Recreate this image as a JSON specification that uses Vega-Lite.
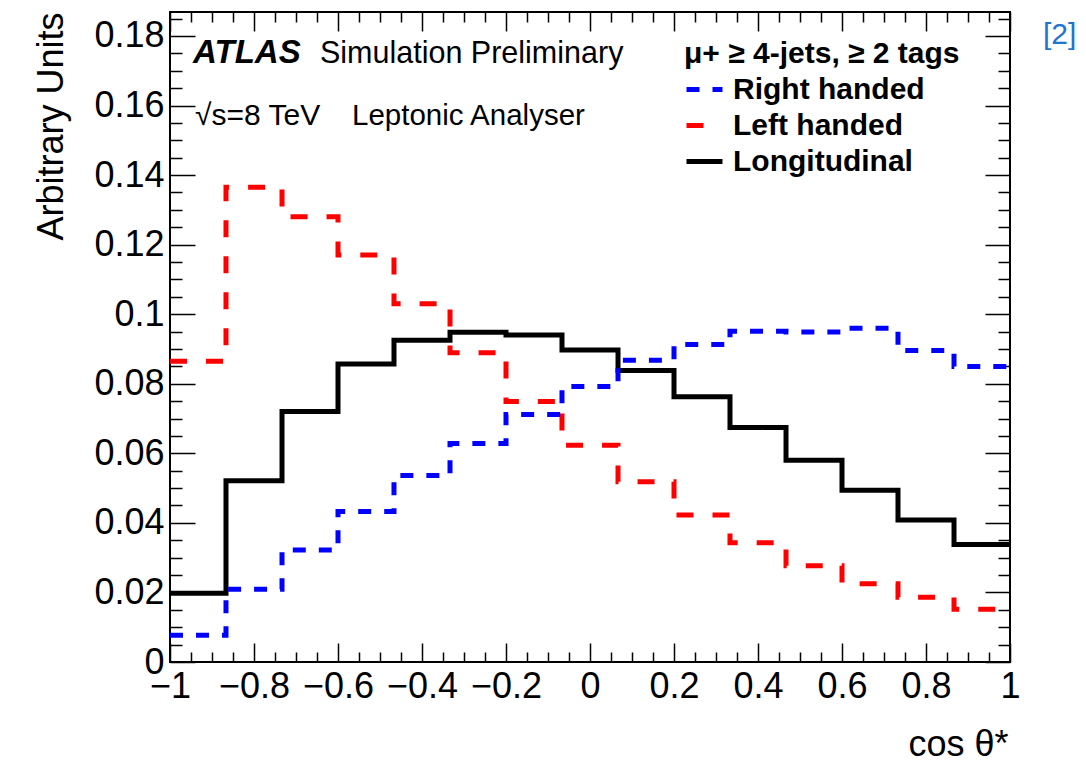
{
  "$schema": "https://vega.github.io/schema/vega-lite/v6.json",
  "width": 840,
  "height": 650,
  "autosize": {"type": "none"},
  "padding": {"left": 170, "top": 12, "right": 76, "bottom": 102},
  "background": "white",
  "config": {
    "view": {"stroke": "black", "strokeWidth": 2},
    "font": "Liberation Sans",
    "axis": {"grid": false, "domain": false, "tickColor": "black", "tickWidth": 1.5, "labelColor": "black", "titleColor": "black", "labelFont": "Liberation Sans", "titleFont": "Liberation Sans", "titleFontWeight": "normal", "labelOverlap": false, "labelFlush": false, "labelBound": false}
  },
  "resolve": {"axis": {"x": "independent", "y": "independent"}},
  "layer": [
    {
      "data": {
        "values": [
          {"series": "Longitudinal", "x0": -1, "x1": -0.8667, "v": 0.0198},
          {"series": "Longitudinal", "x0": -0.8667, "x1": -0.7333, "v": 0.0521},
          {"series": "Longitudinal", "x0": -0.7333, "x1": -0.6, "v": 0.0720},
          {"series": "Longitudinal", "x0": -0.6, "x1": -0.4667, "v": 0.0857},
          {"series": "Longitudinal", "x0": -0.4667, "x1": -0.3333, "v": 0.0925},
          {"series": "Longitudinal", "x0": -0.3333, "x1": -0.2, "v": 0.0948},
          {"series": "Longitudinal", "x0": -0.2, "x1": -0.0667, "v": 0.0940},
          {"series": "Longitudinal", "x0": -0.0667, "x1": 0.0667, "v": 0.0897},
          {"series": "Longitudinal", "x0": 0.0667, "x1": 0.2, "v": 0.0838},
          {"series": "Longitudinal", "x0": 0.2, "x1": 0.3333, "v": 0.0763},
          {"series": "Longitudinal", "x0": 0.3333, "x1": 0.4667, "v": 0.0674},
          {"series": "Longitudinal", "x0": 0.4667, "x1": 0.6, "v": 0.0580},
          {"series": "Longitudinal", "x0": 0.6, "x1": 0.7333, "v": 0.0494},
          {"series": "Longitudinal", "x0": 0.7333, "x1": 0.8667, "v": 0.0408},
          {"series": "Longitudinal", "x0": 0.8667, "x1": 1, "v": 0.0338},
          {"series": "Left handed", "x0": -1, "x1": -0.8667, "v": 0.0865},
          {"series": "Left handed", "x0": -0.8667, "x1": -0.7333, "v": 0.1365},
          {"series": "Left handed", "x0": -0.7333, "x1": -0.6, "v": 0.1280},
          {"series": "Left handed", "x0": -0.6, "x1": -0.4667, "v": 0.1170},
          {"series": "Left handed", "x0": -0.4667, "x1": -0.3333, "v": 0.1030},
          {"series": "Left handed", "x0": -0.3333, "x1": -0.2, "v": 0.0889},
          {"series": "Left handed", "x0": -0.2, "x1": -0.0667, "v": 0.0749},
          {"series": "Left handed", "x0": -0.0667, "x1": 0.0667, "v": 0.0623},
          {"series": "Left handed", "x0": 0.0667, "x1": 0.2, "v": 0.0518},
          {"series": "Left handed", "x0": 0.2, "x1": 0.3333, "v": 0.0423},
          {"series": "Left handed", "x0": 0.3333, "x1": 0.4667, "v": 0.0343},
          {"series": "Left handed", "x0": 0.4667, "x1": 0.6, "v": 0.0277},
          {"series": "Left handed", "x0": 0.6, "x1": 0.7333, "v": 0.0225},
          {"series": "Left handed", "x0": 0.7333, "x1": 0.8667, "v": 0.0186},
          {"series": "Left handed", "x0": 0.8667, "x1": 1, "v": 0.0152},
          {"series": "Right handed", "x0": -1, "x1": -0.8667, "v": 0.0077},
          {"series": "Right handed", "x0": -0.8667, "x1": -0.7333, "v": 0.0209},
          {"series": "Right handed", "x0": -0.7333, "x1": -0.6, "v": 0.0322},
          {"series": "Right handed", "x0": -0.6, "x1": -0.4667, "v": 0.0433},
          {"series": "Right handed", "x0": -0.4667, "x1": -0.3333, "v": 0.0536},
          {"series": "Right handed", "x0": -0.3333, "x1": -0.2, "v": 0.0628},
          {"series": "Right handed", "x0": -0.2, "x1": -0.0667, "v": 0.0712},
          {"series": "Right handed", "x0": -0.0667, "x1": 0.0667, "v": 0.0792},
          {"series": "Right handed", "x0": 0.0667, "x1": 0.2, "v": 0.0868},
          {"series": "Right handed", "x0": 0.2, "x1": 0.3333, "v": 0.0913},
          {"series": "Right handed", "x0": 0.3333, "x1": 0.4667, "v": 0.0951},
          {"series": "Right handed", "x0": 0.4667, "x1": 0.6, "v": 0.0949},
          {"series": "Right handed", "x0": 0.6, "x1": 0.7333, "v": 0.0960},
          {"series": "Right handed", "x0": 0.7333, "x1": 0.8667, "v": 0.0896},
          {"series": "Right handed", "x0": 0.8667, "x1": 1, "v": 0.0850}
        ]
      },
      "transform": [{"fold": ["x0", "x1"], "as": ["edge", "x"]}],
      "mark": {"type": "line", "strokeWidth": 5, "strokeCap": "butt", "strokeJoin": "miter"},
      "encoding": {
        "x": {
          "field": "x", "type": "quantitative",
          "scale": {"domain": [-1, 1], "nice": false, "zero": false},
          "axis": {
            "orient": "bottom",
            "values": [-1, -0.8, -0.6, -0.4, -0.2, 0, 0.2, 0.4, 0.6, 0.8, 1],
            "format": "~g",
            "tickSize": -19,
            "labelFontSize": 36,
            "labelPadding": 26,
            "title": "cos θ*",
            "titleFontSize": 36,
            "titleX": 838,
            "titleY": 93,
            "titleAlign": "right",
            "titleBaseline": "alphabetic",
            "titleAngle": 0
          }
        },
        "y": {
          "field": "v", "type": "quantitative",
          "scale": {"domain": [0, 0.1869], "nice": false, "zero": false},
          "axis": {
            "orient": "left",
            "values": [0, 0.02, 0.04, 0.06, 0.08, 0.1, 0.12, 0.14, 0.16, 0.18],
            "format": "~g",
            "tickSize": -25,
            "labelFontSize": 36,
            "labelPadding": 31,
            "title": "Arbitrary Units",
            "titleFontSize": 36,
            "titleX": -108,
            "titleY": 0,
            "titleAngle": -90,
            "titleAlign": "right",
            "titleBaseline": "alphabetic"
          }
        },
        "color": {
          "field": "series", "type": "nominal",
          "scale": {"domain": ["Right handed", "Left handed", "Longitudinal"], "range": ["#0000ff", "#ff0000", "#000000"]},
          "legend": {"orient": "none", "legendX": 514, "legendY": 27, "title": "μ+ ≥ 4-jets, ≥ 2 tags", "titleFontSize": 30, "titleFontWeight": "bold", "titleFont": "Liberation Sans", "titleColor": "black", "titleLimit": 1000, "titlePadding": 0, "labelFontSize": 30, "labelFontWeight": "bold", "labelFont": "Liberation Sans", "labelColor": "black", "labelLimit": 1000, "labelOffset": 8, "symbolType": "stroke", "symbolSize": 1296, "symbolStrokeWidth": 5, "rowPadding": 0, "padding": 0}
        },
        "strokeDash": {
          "field": "series", "type": "nominal",
          "scale": {"domain": ["Right handed", "Left handed", "Longitudinal"], "range": [[13, 13], [17, 19], [1, 0]]},
          "legend": {"orient": "none", "legendX": 514, "legendY": 27, "title": "μ+ ≥ 4-jets, ≥ 2 tags", "titleFontSize": 30, "titleFontWeight": "bold", "titleFont": "Liberation Sans", "titleColor": "black", "titleLimit": 1000, "titlePadding": 0, "labelFontSize": 30, "labelFontWeight": "bold", "labelFont": "Liberation Sans", "labelColor": "black", "labelLimit": 1000, "labelOffset": 8, "symbolType": "stroke", "symbolSize": 1296, "symbolStrokeWidth": 5, "rowPadding": 0, "padding": 0}
        },
        "order": [{"field": "x0", "type": "quantitative"}, {"field": "edge", "type": "nominal"}]
      }
    },
    {
      "data": {"values": [{}]},
      "mark": {"type": "text", "text": "ATLAS", "fontSize": 33, "fontWeight": "bold", "fontStyle": "italic", "align": "left", "baseline": "alphabetic", "font": "Liberation Sans", "color": "black"},
      "encoding": {
        "x": {
          "datum": -0.945, "type": "quantitative",
          "axis": {
            "orient": "bottom",
            "values": [-0.95, -0.9, -0.85, -0.75, -0.7, -0.65, -0.55, -0.5, -0.45, -0.35, -0.3, -0.25, -0.15, -0.1, -0.05, 0.05, 0.1, 0.15, 0.25, 0.3, 0.35, 0.45, 0.5, 0.55, 0.65, 0.7, 0.75, 0.85, 0.9, 0.95],
            "tickSize": -10, "labels": false, "title": null
          }
        },
        "y": {
          "datum": 0.1722, "type": "quantitative",
          "axis": {
            "orient": "left",
            "values": [0.005, 0.01, 0.015, 0.025, 0.03, 0.035, 0.045, 0.05, 0.055, 0.065, 0.07, 0.075, 0.085, 0.09, 0.095, 0.105, 0.11, 0.115, 0.125, 0.13, 0.135, 0.145, 0.15, 0.155, 0.165, 0.17, 0.175, 0.185],
            "tickSize": -12, "labels": false, "title": null
          }
        }
      }
    },
    {
      "data": {"values": [{}]},
      "mark": {"type": "text", "text": "Simulation Preliminary", "fontSize": 30.5, "align": "left", "baseline": "alphabetic", "font": "Liberation Sans", "color": "black"},
      "encoding": {
        "x": {
          "datum": -0.6429, "type": "quantitative",
          "axis": {
            "orient": "top",
            "values": [-1, -0.8, -0.6, -0.4, -0.2, 0, 0.2, 0.4, 0.6, 0.8, 1],
            "tickSize": -19, "labels": false, "title": null
          }
        },
        "y": {
          "datum": 0.1722, "type": "quantitative",
          "axis": {
            "orient": "right",
            "values": [0, 0.02, 0.04, 0.06, 0.08, 0.1, 0.12, 0.14, 0.16, 0.18],
            "tickSize": -25, "labels": false, "title": null
          }
        }
      }
    },
    {
      "data": {"values": [{}]},
      "mark": {"type": "text", "text": "√s=8 TeV", "fontSize": 30, "align": "left", "baseline": "alphabetic", "font": "Liberation Sans", "color": "black"},
      "encoding": {
        "x": {
          "datum": -0.9405, "type": "quantitative",
          "axis": {
            "orient": "top",
            "values": [-0.95, -0.9, -0.85, -0.75, -0.7, -0.65, -0.55, -0.5, -0.45, -0.35, -0.3, -0.25, -0.15, -0.1, -0.05, 0.05, 0.1, 0.15, 0.25, 0.3, 0.35, 0.45, 0.5, 0.55, 0.65, 0.7, 0.75, 0.85, 0.9, 0.95],
            "tickSize": -10, "labels": false, "title": null
          }
        },
        "y": {
          "datum": 0.1544, "type": "quantitative",
          "axis": {
            "orient": "right",
            "values": [0.005, 0.01, 0.015, 0.025, 0.03, 0.035, 0.045, 0.05, 0.055, 0.065, 0.07, 0.075, 0.085, 0.09, 0.095, 0.105, 0.11, 0.115, 0.125, 0.13, 0.135, 0.145, 0.15, 0.155, 0.165, 0.17, 0.175, 0.185],
            "tickSize": -12, "labels": false, "title": null
          }
        }
      }
    },
    {
      "data": {"values": [{}]},
      "mark": {"type": "text", "text": "Leptonic Analyser", "fontSize": 29.5, "align": "left", "baseline": "alphabetic", "font": "Liberation Sans", "color": "black"},
      "encoding": {"x": {"datum": -0.5667, "type": "quantitative", "axis": null}, "y": {"datum": 0.1544, "type": "quantitative", "axis": null}}
    },
    {
      "data": {"values": [{}]},
      "mark": {"type": "text", "text": "[2]", "fontSize": 30, "align": "left", "baseline": "alphabetic", "font": "Liberation Sans", "color": "#1f74d0"},
      "encoding": {"x": {"datum": 1.0786, "type": "quantitative", "axis": null}, "y": {"datum": 0.1777, "type": "quantitative", "axis": null}}
    }
  ]
}
